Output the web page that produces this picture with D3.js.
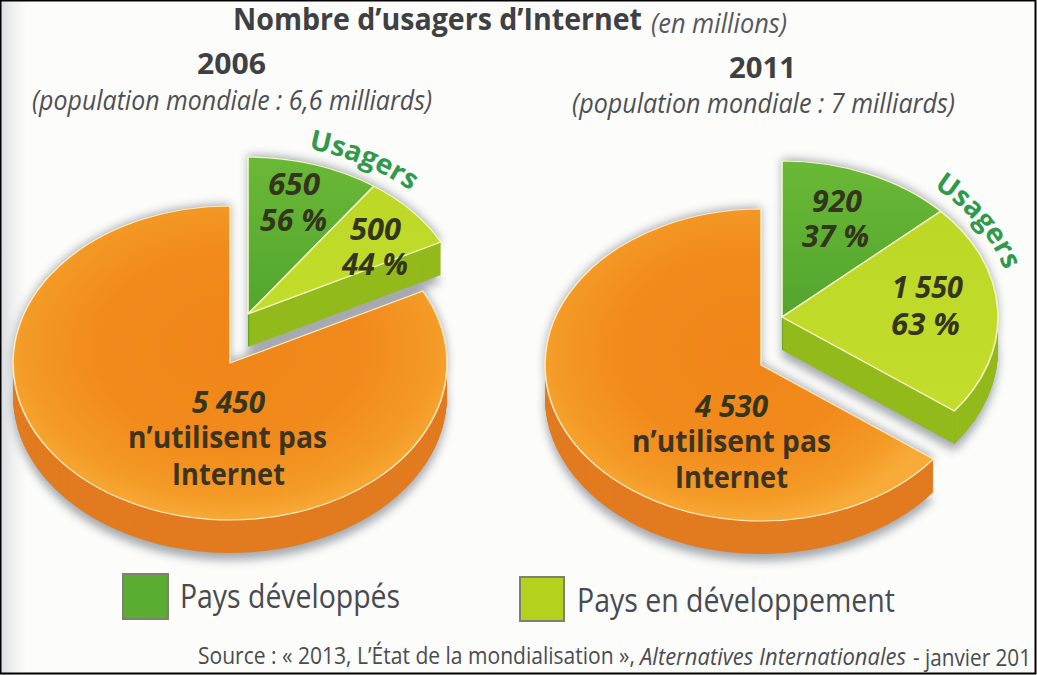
<!DOCTYPE html>
<html><head><meta charset="utf-8">
<script src="https://cdn.jsdelivr.net/npm/d3@7"></script>
<style>html,body{margin:0;padding:0;background:#fff;overflow:hidden}svg{display:block}text{font-family:"Open Sans",sans-serif}</style>
</head><body><div id="c"></div>
<script>
// ---- data ----
const years = ["2006", "2011"];
const population = ["(population mondiale : 6,6 milliards)", "(population mondiale : 7 milliards)"];
const categories = ["Pays développés", "Pays en développement", "n’utilisent pas Internet"];
const values2006 = [650, 500, 5450];
const values2011 = [920, 1550, 4530];
const shares2006 = ["56 %", "44 %"];
const shares2011 = ["37 %", "63 %"];
const valueLabels2006 = ["650", "500", "5 450"];
const valueLabels2011 = ["920", "1 550", "4 530"];

// ---- layout ----
const W = 1037, H = 675;
const colors = {dev:"#5bad31", devg:"#bcd622", devSide:"#4f9a2a", devgSide:"#93ba1c", none:"#f28c1e", noneSide:"#e27b20"};
const layout = [
  {values:values2006, users:{x:248,y:314}, rest:{x:230,y:363}, rx:217, ry:157, depth:33,
   usagers:{a0:15, a1:52, rx:234, ry:171}},
  {values:values2011, users:{x:782,y:317}, rest:{x:761,y:365}, rx:216, ry:156, depth:33,
   usagers:{a0:41, a1:88, rx:231, ry:172}}
];

const svg = d3.select("#c").append("svg").attr("width",W).attr("height",H).attr("viewBox",[0,0,W,H]);
const defs = svg.append("defs");
function lin(id, stops, x2=0, y2=1){
  const g = defs.append("linearGradient").attr("id",id).attr("x1",0).attr("y1",0).attr("x2",x2).attr("y2",y2);
  stops.forEach(s=>g.append("stop").attr("offset",s[0]).attr("stop-color",s[1]));
}
const rg = defs.append("radialGradient").attr("id","gNone").attr("cx",.5).attr("cy",.45).attr("r",.56);
[[0,"#f08518"],[.55,"#f18a1c"],[.85,"#f49a26"],[1,"#f8ab38"]].forEach(s=>rg.append("stop").attr("offset",s[0]).attr("stop-color",s[1]));
lin("gDev",[[0,"#6ab836"],[1,"#52a52e"]]);
lin("gDevg",[[0,"#bcd726"],[1,"#c4dd2c"]]);
lin("gEdge",[[0,"#d9dcdf"],[.5,"#eff0f0"],[1,"#fcfcfa"]],1,0);
defs.append("filter").attr("id","blur").attr("x","-20%").attr("y","-20%").attr("width","140%").attr("height","140%")
  .append("feGaussianBlur").attr("stdDeviation",5);

svg.append("rect").attr("width",W).attr("height",H).attr("fill","#fcfcfa");
svg.append("rect").attr("width",26).attr("height",H).attr("fill","url(#gEdge)");

const pie = d3.pie().sort(null).startAngle(0).endAngle(2*Math.PI);

layout.forEach(p=>{
  const arcs = pie(p.values);
  const arc = d3.arc().innerRadius(0).outerRadius(p.rx);
  const k = p.ry/p.rx;
  const pieces = arcs.map((d,i)=>({d,i,c:i===2?p.rest:p.users}));
  const tf = (c,dy=0)=>`translate(${c.x},${c.y+dy}) scale(1,${k})`;

  // soft grey shadow under all the pieces
  const sh = svg.append("g").attr("filter","url(#blur)").attr("fill","#868c94").attr("opacity",.75);
  sh.selectAll("path").data(pieces.flatMap(q=>[{...q,shift:-2},q,{...q,shift:p.depth+7}])).join("path")
    .attr("d",q=>arc(q.d)).attr("transform",q=>tf(q.c,q.shift||0));

  // orange piece, then the two user pieces
  [2,0,1].forEach(i=>{
    const q = pieces[i];
    const g = svg.append("g");
    const side = [colors.devSide,colors.devgSide,colors.noneSide][i];
    g.selectAll("path.side").data(d3.range(p.depth,0,-1)).join("path").attr("class","side")
      .attr("d",arc(q.d)).attr("transform",dy=>tf(q.c,dy)).attr("fill",side);
    g.append("path").attr("d",arc(q.d)).attr("transform",tf(q.c))
      .attr("fill",["url(#gDev)","url(#gDevg)","url(#gNone)"][i])
      .attr("stroke",i===2?"#fde9bf":"#f4f8c8").attr("stroke-width",1.6).attr("stroke-linejoin","round");
  });

  // curved "Usagers" label following the pie rim
  const u = p.usagers;
  const rim = d3.line().curve(d3.curveLinear)(d3.range(u.a0,u.a1+.5,1).map(a=>{
    const t=a*Math.PI/180; return [p.users.x+u.rx*Math.sin(t), p.users.y-u.ry*Math.cos(t)];
  }));
  const id = "rim"+layout.indexOf(p);
  defs.append("path").attr("id",id).attr("d",rim);
  svg.append("text").attr("font-size",28).attr("font-weight",700).attr("fill","#2f9a4c")
    .append("textPath").attr("href","#"+id).text("Usagers");
});

function t(str,x0,x1,y,size,opt={}){
  return (opt.parent||svg).append("text").attr("x",x0).attr("y",y).attr("font-size",size)
    .attr("font-weight",opt.w||400).attr("font-style",opt.i?"italic":"normal")
    .attr("fill",opt.c||"#45474b").attr("textLength",x1-x0).attr("lengthAdjust","spacingAndGlyphs")
    .text(str);
}
const dark = "#33351c";
const BI = {w:700,i:true,c:dark}, B = {w:700,c:"#3c3420"};

t("Nombre d’usagers d’Internet",233,642,30,30,{w:700,c:"#3e4044"});
t("(en millions)",651,787,33,27,{i:true,c:"#55575b"});
t(years[0],197,266,74,29,{w:700,c:"#3e4044"});
t(years[1],729,796,78,29,{w:700,c:"#3e4044"});
t(population[0],32,432,110,27,{i:true,c:"#4d4f53"});
t(population[1],572,955,113,27,{i:true,c:"#4d4f53"});

t(valueLabels2006[0],268,320,195,30,BI);
t(shares2006[0],260,327,231,30,BI);
t(valueLabels2006[1],350,401,240,30,BI);
t(shares2006[1],342,408,275,30,BI);
t(valueLabels2011[0],812,862,212,30,BI);
t(shares2011[0],802,869,247,30,BI);
t(valueLabels2011[1],892,963,298,30,BI);
t(shares2011[1],891,960,335,30,BI);

const nonWords = categories[2].split(" ");
const l1 = nonWords.slice(0,2).join(" "), l2 = nonWords[2];
t(valueLabels2006[2],192,265,413,30,BI);
t(l1,128,327,448,31,B);
t(l2,172,285,485,31,B);
t(valueLabels2011[2],695,768,417,30,BI);
t(l1,632,831,452,31,B);
t(l2,675,788,488,31,B);

// legend
[{x:123,y:574,s:45,f:colors.dev},{x:520,y:577,s:44,f:"#b4d11e"}].forEach(l=>{
  svg.append("rect").attr("x",l.x).attr("y",l.y).attr("width",l.s).attr("height",l.s)
    .attr("fill",l.f).attr("stroke","#7d8270").attr("stroke-width",2);
});
t(categories[0],180,400,608,33,{c:"#474a4f"});
t(categories[1],577,895,612,33,{c:"#474a4f"});

// source
t("Source : « 2013, L’État de la mondialisation »,",198,635,664,23,{c:"#4a4c50"});
t("Alternatives Internationales",640,906,665,23,{i:true,c:"#4a4c50"});
t("- janvier 201",913,1031,666,23,{c:"#4a4c50"});

// scan border
svg.append("rect").attr("x",.5).attr("y",.5).attr("width",W-2).attr("height",H-2)
  .attr("fill","none").attr("stroke","#000").attr("stroke-width",2);
</script></body></html>
